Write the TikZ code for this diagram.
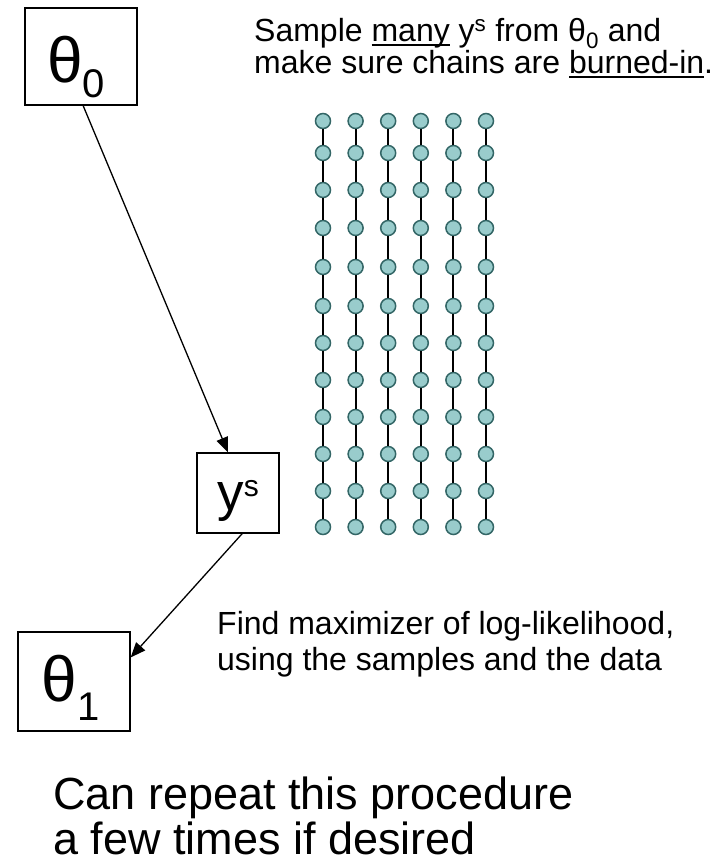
\documentclass[tikz,border=0pt]{standalone}
\usepackage{fontspec}
\setmainfont{Liberation Sans}
\usetikzlibrary{arrows.meta,calc}
\definecolor{beadfill}{HTML}{99CCCC}
\definecolor{beadedge}{HTML}{336666}
% underline just below the baseline
\newcommand\undl[1]{\setbox0\hbox{#1}\rlap{\rule[-4.5pt]{\wd0}{1.8pt}}\box0\relax}
\begin{document}
\begin{tikzpicture}[x=1pt,y=-1pt,
  varbox/.style={draw, rectangle, line width=1.3pt, inner sep=0pt},
  bead/.style={circle, draw=beadedge, fill=beadfill, line width=1.5pt,
               minimum size=15pt, inner sep=0pt},
  link/.style={line width=2pt},
  flow/.style={line width=1.3pt, -{Triangle[length=15pt,width=12pt]}},
  txt/.style={anchor=base west, inner sep=0pt, font=\fontsize{32}{32}\selectfont},
  bigtxt/.style={anchor=base west, inner sep=0pt, font=\fontsize{45}{45}\selectfont}]
\useasboundingbox (0,0) rectangle (726,868);

% parameter and sample boxes
\node[varbox, line width=2pt, minimum width=112pt, minimum height=97pt,
      text height=74pt, text depth=23pt] (t0) at (81,56.5)
  {\fontsize{64}{64}\selectfont θ\raisebox{-15pt}{\fontsize{40}{40}\selectfont 0}\kern10pt};
\node[varbox, minimum width=82pt, minimum height=80pt,
      text height=57pt, text depth=23pt] (ys) at (238,493)
  {\fontsize{53}{53}\selectfont y\raisebox{14pt}{\fontsize{30}{30}\selectfont s}};
\node[varbox, minimum width=112pt, minimum height=99pt,
      text height=69pt, text depth=30pt] (t1) at (74,681.5)
  {\fontsize{64}{64}\selectfont θ\raisebox{-19pt}{\fontsize{40}{40}\selectfont 1}\kern7pt};

% six sampled chains
\foreach \i in {0,...,5} {
  \foreach \yy [count=\j] in {121,153,190,228,267,306,343,380,417,454,491,527} {
    \node[bead] (b-\i-\j) at ({323+32.6*\i},\yy) {};
  }
  \foreach \j [evaluate=\j as \k using int(\j+1)] in {1,...,11} {
    \draw[link] (b-\i-\j) -- (b-\i-\k);
  }
}

% flow of the procedure
\draw[flow] ($(t0.south west)!0.52!(t0.south east)$) -- ($(ys.north west)!0.38!(ys.north east)$);
\draw[flow] ($(ys.south west)!0.55!(ys.south east)$) -- ($(t1.north east)!0.26!(t1.south east)$);

% annotations
\node[txt] (s1) at (254,41) {Sample \undl{many} y\textsuperscript{s} from θ\textsubscript{0} and};
\node[txt] (s2) at (254,73) {make sure chains are \undl{burned-in}.};
\node[txt] (f1) at (217,634) {Find maximizer of log-likelihood,};
\node[txt] (f2) at (217,670) {using the samples and the data};
\node[bigtxt] (r1) at (53,809) {Can repeat this procedure};
\node[bigtxt] (r2) at (53,854) {a few times if desired};
\end{tikzpicture}
\end{document}
